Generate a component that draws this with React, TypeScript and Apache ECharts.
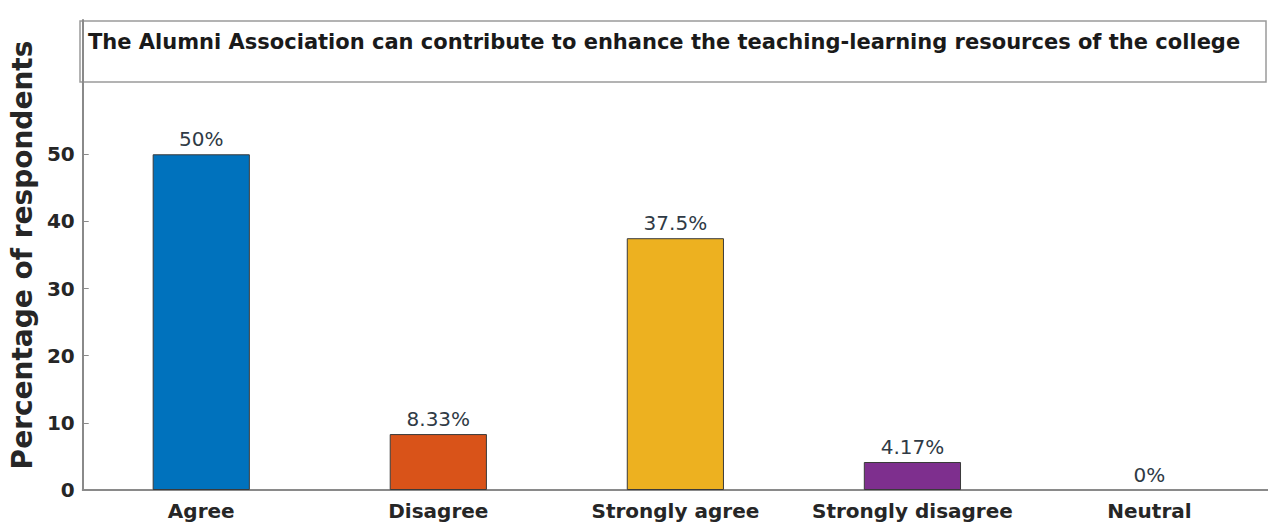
import React, { useEffect, useRef } from "react";
import * as echarts from "echarts";

const categories = ["Agree", "Disagree", "Strongly agree", "Strongly disagree", "Neutral"];
const values = [50, 8.33, 37.5, 4.17, 0];
const valueLabels = ["50%", "8.33%", "37.5%", "4.17%", "0%"];
const barColors = ["#0072BD", "#D95319", "#EDB120", "#7E2F8E", "#77AC30"];
const yTicks = [0, 10, 20, 30, 40, 50];
const titleText =
  "The Alumni Association can contribute to enhance the teaching-learning resources of the college";
const yName = "Percentage of respondents";

export default function App() {
  const ref = useRef<HTMLDivElement>(null);
  useEffect(() => {
    if (!ref.current) return;
    const chart = echarts.init(ref.current, undefined, { renderer: "svg" });
    chart.setOption({
      animation: false,
      backgroundColor: "#ffffff",
      textStyle: { fontFamily: "DejaVu Sans" },
      title: {
        text: titleText,
        left: 88,
        top: 31,
        padding: 0,
        textStyle: { fontFamily: "DejaVu Sans", fontWeight: "bold", fontSize: 21, color: "#1a1a1a" },
      },
      graphic: [
        {
          type: "rect",
          z: 0,
          shape: { x: 80, y: 21, width: 1186, height: 61 },
          style: { fill: "#ffffff", stroke: "#9a9a9a", lineWidth: 1.5 },
        },
      ],
      grid: { left: 77, top: 20, width: 1195, bottom: 38 },
      xAxis: {
        type: "category",
        data: categories,
        axisLine: { lineStyle: { color: "#8a8a8a", width: 2 } },
        axisTick: { show: false },
        axisLabel: {
          interval: 0,
          margin: 11,
          fontFamily: "DejaVu Sans",
          fontWeight: "bold",
          fontSize: 20,
          color: "#262626",
        },
      },
      yAxis: {
        type: "value",
        min: 0,
        max: 70,
        interval: 10,
        name: yName,
        nameLocation: "middle",
        nameGap: 42,
        nameTextStyle: { fontFamily: "DejaVu Sans", fontWeight: "bold", fontSize: 28, color: "#262626" },
        axisLine: { show: true, lineStyle: { color: "#8a8a8a", width: 2 } },
        axisTick: { show: true, inside: true, length: 6, customValues: yTicks, lineStyle: { color: "#8a8a8a" } },
        axisLabel: {
          customValues: yTicks,
          margin: 8,
          fontFamily: "DejaVu Sans",
          fontWeight: "bold",
          fontSize: 20,
          color: "#262626",
        },
        splitLine: { show: false },
      },
      series: [
        {
          type: "bar",
          barWidth: "41%",
          data: values.map((v, i) => ({
            value: v,
            itemStyle: { color: barColors[i], borderColor: "#3a3a3a", borderWidth: v > 0 ? 1 : 0 },
          })),
          label: {
            show: true,
            position: "top",
            distance: 5,
            formatter: (p: any) => valueLabels[p.dataIndex],
            fontFamily: "DejaVu Sans",
            fontSize: 20,
            color: "#2f3a45",
          },
        },
      ],
    });
    return () => chart.dispose();
  }, []);
  return (
    <div
      ref={ref}
      style={{ position: "absolute", left: 0, top: 0, width: 1268, height: 528 }}
    />
  );
}
